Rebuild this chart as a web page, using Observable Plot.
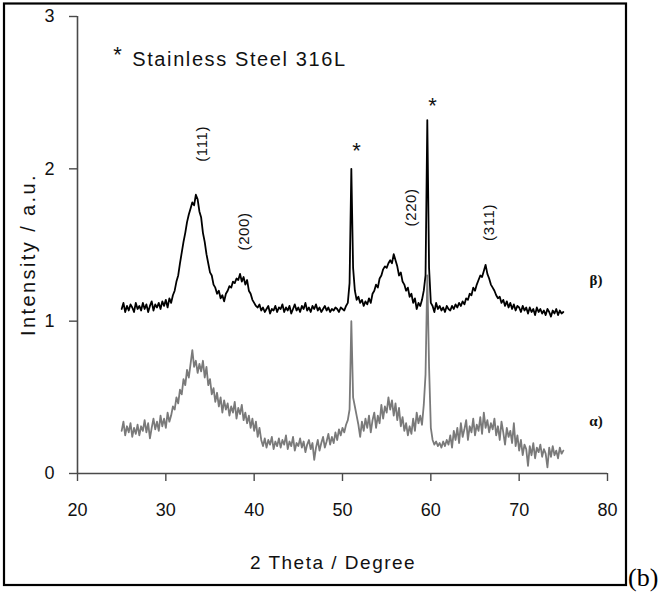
<!DOCTYPE html>
<html>
<head>
<meta charset="utf-8">
<script src="https://cdn.jsdelivr.net/npm/d3@7"></script>
<script src="https://cdn.jsdelivr.net/npm/@observablehq/plot@0.6"></script>
<style>
  html, body { margin: 0; padding: 0; background: #fff; }
  #chart { position: relative; width: 659px; height: 592px; }
</style>
</head>
<body>
<div id="chart"></div>
<script>
// sampling grid of 2θ (degrees), step 0.2 from 25 to 75
const twoTheta = d3.range(251).map(i => +(25 + i * 0.2).toFixed(1));

// β) upper pattern (black)
const betaIntensity = [
  1.08,1.12,1.06,1.10,1.07,1.11,1.09,1.06,1.12,1.08,
  1.10,1.07,1.12,1.08,1.11,1.06,1.10,1.13,1.07,1.11,
  1.09,1.12,1.08,1.13,1.10,1.14,1.09,1.15,1.12,1.17,
  1.20,1.26,1.30,1.38,1.45,1.52,1.58,1.65,1.70,1.74,
  1.78,1.76,1.83,1.80,1.72,1.68,1.58,1.52,1.44,1.38,
  1.32,1.30,1.24,1.22,1.18,1.20,1.15,1.17,1.13,1.18,
  1.20,1.23,1.22,1.26,1.25,1.28,1.27,1.31,1.26,1.29,
  1.24,1.27,1.20,1.18,1.14,1.12,1.10,1.09,1.11,1.07,
  1.09,1.06,1.08,1.10,1.05,1.08,1.07,1.10,1.06,1.09,
  1.08,1.11,1.06,1.09,1.07,1.10,1.05,1.08,1.11,1.07,
  1.09,1.06,1.10,1.08,1.12,1.07,1.09,1.06,1.10,1.08,
  1.11,1.07,1.09,1.06,1.08,1.10,1.07,1.09,1.06,1.08,
  1.07,1.09,1.08,1.06,1.09,1.08,1.07,1.10,1.12,1.25,
  2.00,1.35,1.20,1.14,1.16,1.12,1.14,1.10,1.13,1.11,
  1.15,1.12,1.18,1.20,1.24,1.22,1.28,1.30,1.34,1.36,
  1.35,1.38,1.40,1.38,1.44,1.40,1.36,1.30,1.32,1.26,
  1.24,1.20,1.22,1.16,1.18,1.12,1.15,1.08,1.12,1.10,
  1.14,1.20,1.30,2.32,1.35,1.12,1.10,1.06,1.12,1.08,
  1.10,1.07,1.09,1.06,1.10,1.08,1.07,1.10,1.08,1.11,
  1.09,1.12,1.10,1.13,1.11,1.15,1.14,1.18,1.17,1.22,
  1.20,1.24,1.27,1.30,1.29,1.33,1.37,1.31,1.28,1.24,
  1.22,1.20,1.17,1.15,1.16,1.12,1.14,1.10,1.13,1.09,
  1.12,1.08,1.11,1.07,1.10,1.09,1.06,1.10,1.07,1.09,
  1.05,1.09,1.06,1.08,1.04,1.09,1.06,1.08,1.05,1.07,
  1.04,1.08,1.06,1.03,1.07,1.05,1.08,1.04,1.07,1.05,
  1.06
];

// α) lower pattern (grey)
const alphaIntensity = [
  0.28,0.34,0.25,0.31,0.27,0.33,0.24,0.30,0.26,0.32,
  0.25,0.31,0.28,0.35,0.27,0.33,0.23,0.30,0.36,0.29,
  0.34,0.28,0.38,0.31,0.36,0.30,0.40,0.34,0.38,0.44,
  0.42,0.50,0.46,0.55,0.52,0.62,0.58,0.68,0.63,0.72,
  0.81,0.70,0.74,0.66,0.72,0.67,0.74,0.63,0.70,0.58,
  0.62,0.52,0.56,0.47,0.53,0.44,0.50,0.40,0.48,0.42,
  0.46,0.38,0.44,0.40,0.47,0.36,0.43,0.39,0.45,0.35,
  0.40,0.33,0.38,0.30,0.36,0.28,0.34,0.24,0.30,0.22,
  0.18,0.23,0.17,0.22,0.19,0.24,0.16,0.21,0.18,0.23,
  0.17,0.22,0.19,0.25,0.16,0.21,0.18,0.24,0.15,0.20,
  0.18,0.23,0.17,0.21,0.14,0.19,0.22,0.16,0.20,0.09,
  0.17,0.22,0.15,0.20,0.24,0.17,0.21,0.26,0.19,0.24,
  0.20,0.27,0.22,0.29,0.25,0.30,0.27,0.32,0.35,0.42,
  1.00,0.50,0.44,0.38,0.32,0.24,0.34,0.28,0.36,0.30,
  0.38,0.27,0.35,0.40,0.30,0.38,0.33,0.45,0.36,0.44,
  0.40,0.50,0.42,0.48,0.38,0.46,0.35,0.43,0.31,0.37,
  0.28,0.33,0.25,0.31,0.26,0.36,0.28,0.40,0.33,0.38,
  0.32,0.45,0.65,1.30,0.70,0.30,0.22,0.19,0.21,0.18,
  0.20,0.17,0.21,0.18,0.22,0.19,0.25,0.17,0.28,0.22,
  0.30,0.20,0.33,0.24,0.29,0.35,0.22,0.31,0.27,0.36,
  0.25,0.32,0.28,0.37,0.26,0.40,0.30,0.35,0.27,0.33,
  0.29,0.36,0.25,0.31,0.22,0.34,0.27,0.19,0.30,0.24,
  0.28,0.20,0.33,0.18,0.25,0.15,0.22,0.12,0.19,0.16,
  0.05,0.18,0.12,0.20,0.10,0.17,0.14,0.19,0.11,0.16,
  0.13,0.04,0.17,0.11,0.18,0.12,0.15,0.10,0.17,0.13,
  0.15
];

const xTicks = [20, 30, 40, 50, 60, 70, 80];
const yTicks = [0, 1, 2, 3];

// reflection labels (rotated) and their positions in data units
const hklLabels = ["(111)", "(200)", "(220)", "(311)"];
const hklX = [34.1, 38.9, 57.75, 66.55];
const hklY = [2.164, 1.589, 1.747, 1.648];

// stainless-steel markers
const starX = [51.59, 60.19];
const starY = [2.12, 2.41];

// sample labels
const sampleLabels = ["β)", "α)"];
const sampleX = [78.7, 78.7];
const sampleY = [1.27, 0.342];

const legendText = "Stainless Steel 316L";
const xLabel = "2 Theta / Degree";
const yLabel = "Intensity / a.u.";

const beta = twoTheta.map((t, i) => ({t, v: betaIntensity[i]}));
const alpha = twoTheta.map((t, i) => ({t, v: alphaIntensity[i]}));
const hkl = hklLabels.map((s, i) => ({s, x: hklX[i], y: hklY[i]}));
const stars = starX.map((x, i) => ({x, y: starY[i]}));
const samples = sampleLabels.map((s, i) => ({s, x: sampleX[i], y: sampleY[i]}));

const axisColor = "#4a4a4a";

const plot = Plot.plot({
  width: 659,
  height: 592,
  marginLeft: 77,
  marginRight: 52,
  marginTop: 16,
  marginBottom: 119,
  style: {fontFamily: "Liberation Sans, Arial, sans-serif", background: "#fff", overflow: "visible"},
  x: {domain: [20, 80]},
  y: {domain: [0, 3]},
  marks: [
    Plot.axisX({ticks: xTicks, tickFormat: d3.format("d"), tickSize: 8, tickPadding: 22, fontSize: 18, label: null, stroke: axisColor, fill: "#111", strokeWidth: 1.4}),
    Plot.axisY({ticks: yTicks, tickFormat: d3.format("d"), tickSize: 8, tickPadding: 15, fontSize: 18, label: null, stroke: axisColor, fill: "#111", strokeWidth: 1.4}),
    Plot.ruleY([0], {x1: 20, x2: 80, stroke: axisColor, strokeWidth: 1.6}),
    Plot.ruleX([20], {y1: 0, y2: 3, stroke: axisColor, strokeWidth: 1.6}),
    Plot.line(alpha, {x: "t", y: "v", stroke: "#7a7a7a", strokeWidth: 1.8}),
    Plot.line(beta, {x: "t", y: "v", stroke: "#000", strokeWidth: 1.8}),
    Plot.text(hkl, {x: "x", y: "y", text: "s", rotate: -90, fontSize: 15, fill: "#111", textAnchor: "middle", lineAnchor: "middle"}),
    Plot.text(stars, {x: "x", y: "y", text: () => "*", fontSize: 22, fill: "#111"}),
    Plot.text(samples, {x: "x", y: "y", text: "s", fontSize: 15, fontWeight: "bold", fontFamily: "Liberation Serif, Times New Roman, serif", fill: "#111"}),
    Plot.text([{x: 24.53, y: 2.75}], {x: "x", y: "y", text: () => "*", fontSize: 22, fill: "#111"}),
    Plot.text([{x: 26.2, y: 2.717}], {x: "x", y: "y", text: () => legendText, fontSize: 20, textAnchor: "start", fill: "#111"}),
    Plot.text([{x: 48.93, y: -0.5855}], {x: "x", y: "y", text: () => xLabel, fontSize: 19, fill: "#111"}),
    Plot.text([{x: 14.51, y: 1.438}], {x: "x", y: "y", text: () => yLabel, fontSize: 20, rotate: -90, fill: "#111"})
  ]
});

document.getElementById("chart").appendChild(plot);

const svg = d3.select(plot);
svg.selectAll("text").filter(function () { return this.textContent === yLabel; }).attr("letter-spacing", "2.4px");
svg.selectAll("text").filter(function () { return this.textContent === xLabel; }).attr("letter-spacing", "1.5px");
svg.selectAll("text").filter(function () { return this.textContent === legendText; }).attr("letter-spacing", "1.6px");
svg.selectAll("text").filter(function () { return hklLabels.includes(this.textContent); }).attr("letter-spacing", "0.6px");

// outer frame and panel tag
svg.append("rect")
  .attr("x", 4).attr("y", 3.5).attr("width", 622).attr("height", 581.5)
  .attr("fill", "none").attr("stroke", "#000").attr("stroke-width", 2.2);
svg.append("text")
  .attr("x", 628).attr("y", 586)
  .attr("text-anchor", "start")
  .attr("font-family", "Liberation Serif, Times New Roman, serif")
  .attr("font-size", 26).attr("fill", "#000")
  .text("(b)");
</script>
</body>
</html>
